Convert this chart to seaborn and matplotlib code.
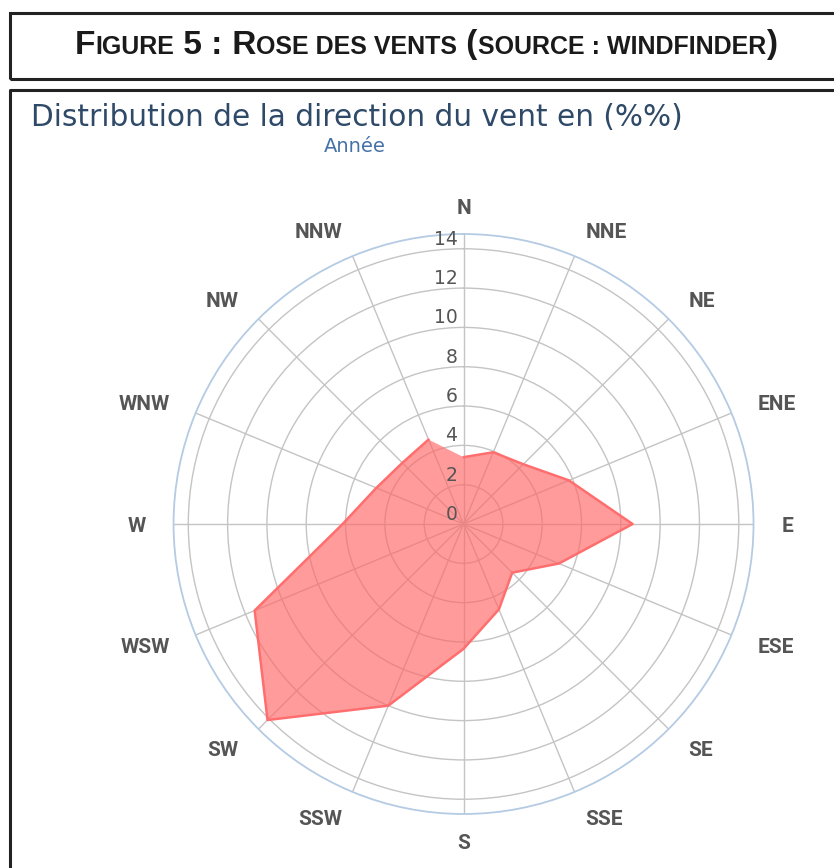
import numpy as np
import matplotlib
matplotlib.use('Agg')
import matplotlib.pyplot as plt
import matplotlib.transforms as mtransforms
from matplotlib.offsetbox import TextArea, HPacker, AnchoredOffsetbox
import seaborn as sns

sns.set_theme(style='white')
plt.rcParams['font.family'] = ['DejaVu Sans']

# wind direction frequencies (%), clockwise from north
directions = ['N', 'NNE', 'NE', 'ENE', 'E', 'ESE', 'SE', 'SSE',
              'S', 'SSW', 'SW', 'WSW', 'W', 'WNW', 'NW', 'NNW']
freq = [3.4, 3.95, 4.3, 5.8, 8.6, 5.25, 3.5, 4.7,
        6.35, 10.0, 14.1, 11.5, 6.15, 4.8, 4.4, 4.65]
r_ticks = [0, 2, 4, 6, 8, 10, 12, 14]

title_parts = [('F', 24), ('IGURE', 18), (' 5 :', 24), (' R', 24),
               ('OSE DES VENTS', 18), (' (', 24),
               ('SOURCE : WINDFINDER', 18), (')', 24)]

fig = plt.figure(figsize=(8.34, 8.68), dpi=100)

# frames of the document
fig.add_artist(plt.Rectangle((10 / 834, 1 - 79 / 868), 1.0, 66 / 868,
                             transform=fig.transFigure, fill=False,
                             lw=2.2, ec='#222222'))
fig.add_artist(plt.Line2D([10 / 834, 10 / 834, 1.01], [-0.01, 1 - 90 / 868, 1 - 90 / 868],
                          transform=fig.transFigure, lw=2.2, color='#222222'))

# small caps title
boxes = [TextArea(t, textprops=dict(fontsize=s, fontweight='bold',
                                    family='Liberation Sans', color='#1a1a1a'))
         for t, s in title_parts]
pack = HPacker(children=boxes, align='baseline', pad=0, sep=0)
fig.add_artist(AnchoredOffsetbox(loc='center', child=pack, frameon=False, pad=0,
                                 borderpad=0, bbox_to_anchor=(426 / 834, 1 - 45 / 868),
                                 bbox_transform=fig.transFigure))

fig.text(31 / 834, 1 - 117 / 868, 'Distribution de la direction du vent en (%%)',
         fontsize=21.3, color='#2e4a68', va='center')
fig.text(355 / 834, 1 - 146 / 868, 'Année', fontsize=14, color='#4572a7',
         ha='center', va='center')

ax = fig.add_axes([0.2081, 0.0622, 0.6954, 0.6682], projection='polar')
ax.set_theta_zero_location('N')
ax.set_theta_direction(-1)

theta = np.deg2rad(np.arange(len(directions)) * 360 / len(directions))
t_closed = np.append(theta, theta[0])
r_closed = np.append(freq, freq[0])

ax.fill(t_closed, r_closed, color='#ff6666', alpha=0.65, lw=0, zorder=2)
sns.lineplot(x=t_closed, y=r_closed, sort=False, color='#ff6e6e', lw=1.8,
             ax=ax, zorder=3)

ax.set_ylim(0, 14.75)
ax.set_yticks(r_ticks)
ax.set_yticklabels([])
ax.set_xticks(theta)
ax.set_xticklabels([])
ax.grid(True, color='#c4c4c4', lw=1)
ax.spines['polar'].set_color('#b4cbe3')
ax.spines['polar'].set_linewidth(1.3)

# direction labels, aligned away from the centre like highcharts does
for t, lab in zip(theta, directions):
    s = np.sin(t)
    ha = 'left' if s > 0.01 else ('right' if s < -0.01 else 'center')
    ax.text(t, 16.17, lab, ha=ha, va='center_baseline', fontsize=15, color='#555555',
            family='Roboto', fontweight='semibold', clip_on=False)

off = mtransforms.offset_copy(ax.transData, fig=fig, x=-6, y=4, units='dots')
for v in r_ticks:
    ax.text(0, v, str(v), transform=off, ha='right', va='baseline',
            fontsize=13.5, color='#555555', zorder=4)

fig.savefig('out.png', dpi=100)
